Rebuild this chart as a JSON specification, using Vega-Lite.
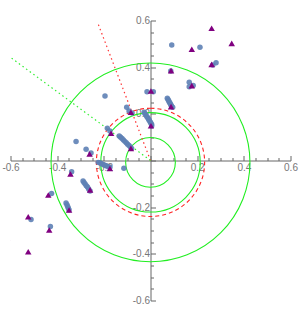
{
  "$schema": "https://vega.github.io/schema/vega-lite/v6.json",
  "width": 280,
  "height": 280,
  "autosize": {"type": "none"},
  "padding": {"left": 10.5, "top": 20.5, "right": 9.5, "bottom": 9.5},
  "background": "white",
  "config": {"view": {"stroke": null}},
  "datasets": {
    "greenCircles": [{"x": 0, "y": -0.008, "r": 0.1065}, {"x": 0, "y": -0.008, "r": 0.213}, {"x": 0, "y": -0.008, "r": 0.426}],
    "redCircle": [{"x": 0, "y": -0.008, "r": 0.232}],
    "redLine": [{"x": 0, "y": 0, "x2": -0.227, "y2": 0.592}],
    "greenLine": [{"x": 0, "y": 0, "x2": -0.6, "y2": 0.442}],
    "blue": [
      {"x": 0.091, "y": 0.495}, {"x": 0.212, "y": 0.485}, {"x": 0.281, "y": 0.419}, {"x": 0.267, "y": 0.409},
      {"x": 0.087, "y": 0.384}, {"x": 0.166, "y": 0.335}, {"x": 0.183, "y": 0.321}, {"x": 0.166, "y": 0.316},
      {"x": 0.012, "y": 0.295}, {"x": -0.015, "y": 0.295},
      {"x": 0.072, "y": 0.267}, {"x": 0.075, "y": 0.261}, {"x": 0.078, "y": 0.256}, {"x": 0.081, "y": 0.25}, {"x": 0.084, "y": 0.245}, {"x": 0.087, "y": 0.239}, {"x": 0.09, "y": 0.234}, {"x": 0.095, "y": 0.228},
      {"x": -0.027, "y": 0.207}, {"x": -0.024, "y": 0.201}, {"x": -0.02, "y": 0.195}, {"x": -0.016, "y": 0.189}, {"x": -0.012, "y": 0.183}, {"x": -0.008, "y": 0.177}, {"x": -0.005, "y": 0.171}, {"x": -0.001, "y": 0.165}, {"x": 0.002, "y": 0.16}, {"x": 0.005, "y": 0.154}, {"x": 0.005, "y": 0.148},
      {"x": -0.195, "y": 0.276}, {"x": -0.102, "y": 0.228}, {"x": -0.092, "y": 0.212}, {"x": -0.079, "y": 0.204},
      {"x": -0.185, "y": 0.138}, {"x": -0.174, "y": 0.126},
      {"x": -0.134, "y": 0.105}, {"x": -0.128, "y": 0.1}, {"x": -0.122, "y": 0.094}, {"x": -0.116, "y": 0.088}, {"x": -0.11, "y": 0.082}, {"x": -0.104, "y": 0.076}, {"x": -0.098, "y": 0.07}, {"x": -0.092, "y": 0.064}, {"x": -0.086, "y": 0.058}, {"x": -0.081, "y": 0.052},
      {"x": -0.319, "y": 0.081}, {"x": -0.276, "y": 0.048}, {"x": -0.255, "y": 0.032},
      {"x": -0.224, "y": -0.008}, {"x": -0.218, "y": -0.01}, {"x": -0.212, "y": -0.013}, {"x": -0.205, "y": -0.016}, {"x": -0.199, "y": -0.019}, {"x": -0.193, "y": -0.021}, {"x": -0.187, "y": -0.024}, {"x": -0.18, "y": -0.027}, {"x": -0.174, "y": -0.029},
      {"x": -0.114, "y": -0.033}, {"x": -0.338, "y": -0.048},
      {"x": -0.289, "y": -0.088}, {"x": -0.285, "y": -0.094}, {"x": -0.28, "y": -0.101}, {"x": -0.275, "y": -0.108}, {"x": -0.27, "y": -0.114}, {"x": -0.265, "y": -0.122}, {"x": -0.259, "y": -0.131},
      {"x": -0.424, "y": -0.141},
      {"x": -0.362, "y": -0.182}, {"x": -0.358, "y": -0.19}, {"x": -0.355, "y": -0.197}, {"x": -0.352, "y": -0.205}, {"x": -0.349, "y": -0.212},
      {"x": -0.512, "y": -0.253}, {"x": -0.429, "y": -0.283}
    ],
    "triangles": [
      {"x": 0.262, "y": 0.567}, {"x": 0.348, "y": 0.502}, {"x": 0.177, "y": 0.477}, {"x": 0.088, "y": 0.385},
      {"x": 0.262, "y": 0.412}, {"x": 0.177, "y": 0.321}, {"x": 0.088, "y": 0.231}, {"x": 0.002, "y": 0.298},
      {"x": 0.002, "y": 0.149}, {"x": -0.084, "y": 0.207}, {"x": -0.169, "y": 0.117}, {"x": -0.084, "y": 0.052},
      {"x": -0.261, "y": 0.028}, {"x": -0.174, "y": -0.034}, {"x": -0.343, "y": -0.058}, {"x": -0.259, "y": -0.126},
      {"x": -0.438, "y": -0.148}, {"x": -0.349, "y": -0.212}, {"x": -0.524, "y": -0.241}, {"x": -0.434, "y": -0.298},
      {"x": -0.524, "y": -0.391}, {"x": -0.615, "y": -0.331}
    ]
  },
  "encoding": {
    "x": {
      "field": "x", "type": "quantitative",
      "scale": {"domain": [-0.6, 0.6], "nice": false, "zero": false},
      "axis": {
        "title": null, "orient": "bottom", "offset": -140, "grid": false,
        "values": [-0.6, -0.55, -0.5, -0.45, -0.4, -0.35, -0.3, -0.25, -0.2, -0.15, -0.1, -0.05, 0, 0.05, 0.1, 0.15, 0.2, 0.25, 0.3, 0.35, 0.4, 0.45, 0.5, 0.55, 0.6],
        "domainColor": "#666666", "tickColor": "#666666",
        "tickSize": {"condition": {"test": "abs(datum.value*5 - round(datum.value*5)) < 0.001", "value": -5}, "value": -3},
        "labelExpr": "abs(datum.value) < 0.001 || abs(datum.value*5 - round(datum.value*5)) > 0.001 ? '' : replace(format(datum.value, '.1f'), '\u2212', '-')",
        "labelFont": "Liberation Sans", "labelFontSize": 10, "labelColor": "#777777",
        "labelPadding": 7, "labelOverlap": false, "labelFlush": false, "labelBound": false
      }
    },
    "y": {
      "field": "y", "type": "quantitative",
      "scale": {"domain": [-0.6, 0.6], "nice": false, "zero": false},
      "axis": {
        "title": null, "orient": "left", "offset": -140, "grid": false,
        "values": [-0.6, -0.55, -0.5, -0.45, -0.4, -0.35, -0.3, -0.25, -0.2, -0.15, -0.1, -0.05, 0, 0.05, 0.1, 0.15, 0.2, 0.25, 0.3, 0.35, 0.4, 0.45, 0.5, 0.55, 0.6],
        "domainColor": "#666666", "tickColor": "#666666",
        "tickSize": {"condition": {"test": "abs(datum.value*5 - round(datum.value*5)) < 0.001", "value": -5}, "value": -3},
        "labelExpr": "abs(datum.value) < 0.001 || abs(datum.value*5 - round(datum.value*5)) > 0.001 ? '' : replace(format(datum.value, '.1f'), '\u2212', '-')",
        "labelFont": "Liberation Sans", "labelFontSize": 10, "labelColor": "#777777",
        "labelPadding": 6, "labelOverlap": false, "labelBound": false
      }
    }
  },
  "layer": [
    {
      "data": {"name": "greenCircles"},
      "mark": {"type": "arc", "filled": false, "stroke": "#22ee22", "strokeWidth": 1.1, "theta": 0, "theta2": 6.2832, "clip": true},
      "encoding": {"radius": {"field": "r", "type": "quantitative", "stack": null, "scale": {"type": "linear", "domain": [0, 0.6], "range": [0, 140], "zero": true}}}
    },
    {
      "data": {"name": "redCircle"},
      "mark": {"type": "arc", "filled": false, "stroke": "#ff2222", "strokeWidth": 1.1, "strokeDash": [4, 3], "theta": 0, "theta2": 6.2832, "clip": true},
      "encoding": {"radius": {"field": "r", "type": "quantitative", "stack": null, "scale": {"type": "linear", "domain": [0, 0.6], "range": [0, 140], "zero": true}}}
    },
    {
      "data": {"name": "redLine"},
      "mark": {"type": "rule", "stroke": "#ff3333", "strokeWidth": 1.2, "strokeDash": [1.5, 3], "clip": true},
      "encoding": {"x2": {"field": "x2"}, "y2": {"field": "y2"}}
    },
    {
      "data": {"name": "greenLine"},
      "mark": {"type": "rule", "stroke": "#33ee33", "strokeWidth": 1.2, "strokeDash": [1.5, 3], "clip": true},
      "encoding": {"x2": {"field": "x2"}, "y2": {"field": "y2"}}
    },
    {
      "data": {"name": "blue"},
      "mark": {"type": "point", "shape": "circle", "filled": true, "color": "#5E81B5", "size": 30, "opacity": 0.9, "clip": true}
    },
    {
      "data": {"name": "triangles"},
      "mark": {"type": "point", "shape": "triangle-up", "filled": true, "color": "#800080", "size": 42, "opacity": 1, "clip": true}
    }
  ]
}
